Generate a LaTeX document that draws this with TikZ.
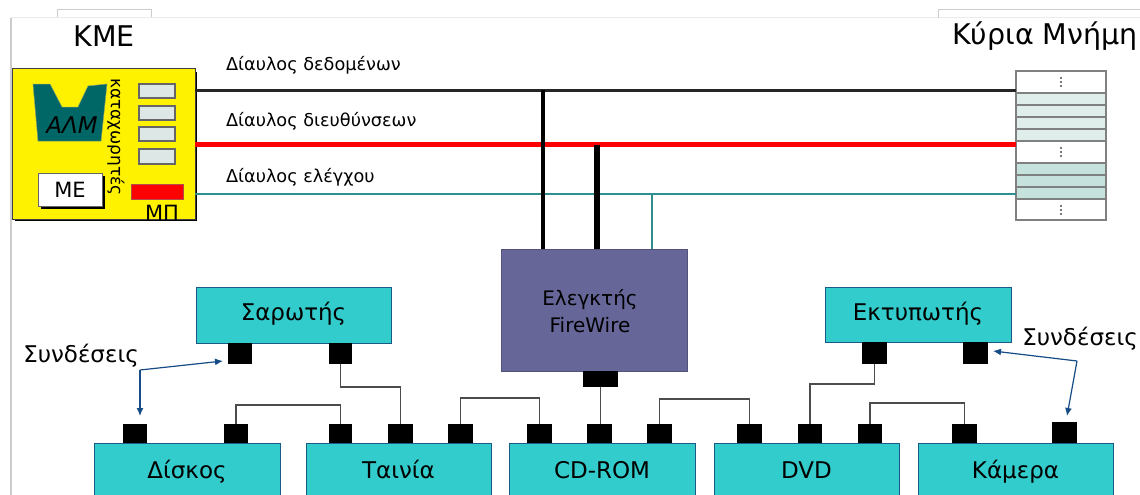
\documentclass[tikz,border=0pt]{standalone}
\usepackage{fontspec}
\setmainfont{DejaVu Sans}
\usetikzlibrary{arrows.meta}
\definecolor{cyanbox}{HTML}{33CCCC}
\definecolor{violetbox}{HTML}{666699}
\definecolor{almteal}{HTML}{006666}
\definecolor{regfill}{HTML}{DDE8E6}
\definecolor{memone}{HTML}{E0EEEB}
\definecolor{memtwo}{HTML}{C5E2DC}
\definecolor{busteal}{HTML}{2F8F8F}
\definecolor{arrowblue}{HTML}{154C85}
\definecolor{framegray}{HTML}{CCCCCC}
\definecolor{devedge}{HTML}{1B5A85}
\newcommand{\fs}[1]{\fontsize{#1}{#1}\selectfont}
\newcommand{\pbox}[7][]{\node[#2,minimum width={#5pt-#3pt},minimum height={#6pt-#4pt},#1] (#7) at ({(#3+#5)/2},{(#4+#6)/2})}
\tikzset{
  x=1pt,y=-1pt,
  base/.style={inner sep=0pt,outer sep=0pt,align=center},
  device/.style={base,draw=devedge,line width=1pt,fill=cyanbox,font=\fs{23},text height=16pt,text depth=5pt},
  port/.style={base,fill=black},
  reg/.style={base,draw=gray!80!black,line width=1.2pt,fill=regfill},
  cell/.style={base,draw=gray,line width=1.2pt,fill=white},
  link/.style={draw=black!70,line width=1.3pt},
  buslabel/.style={base,anchor=west,font=\fs{17.7}},
  title/.style={base,font=\fs{28.5}},
  callout/.style={draw=arrowblue,line width=1.2pt,-{Latex[length=8pt,width=7pt]}},
  conn/.style={base,font=\fs{23}},
}
\begin{document}
\begin{tikzpicture}
\useasboundingbox (0,0) rectangle (1140,495);
\clip (0,0) rectangle (1140,495);
\fill[white] (0,0) rectangle (1140,495);
% window frame
\draw[framegray,line width=1pt] (57,18) -- (57,10) -- (151,10) -- (151,18);
\draw[framegray!40,line width=1pt] (11,18) -- (1140,18);
\draw[framegray,line width=1pt] (938,18) -- (938,10) -- (1140,10);
\draw[framegray,line width=2pt] (11,18) -- (11,495);
% titles
\node[title] (cputitle) at (104,36) {ΚΜΕ};
\node[title] (memtitle) at (1045,36) {Κύρια Μνήμη};
% CPU
\fill[black] (15,72) rectangle (197,221);
\pbox{base,draw=gray!50!black,line width=1pt,fill=yellow}{12}{69}{195}{219}{cpu} {};
\fill[almteal,draw=yellow!40!almteal,line width=.5pt] (33,84) -- (50,84) -- (62,107) -- (78,107) -- (88,86) -- (107,84) -- (101,141) -- (38,141) -- cycle;
\node[base,font=\fs{23}\itshape] (alm) at (72,125) {ΑΛΜ};
\node[base,rotate=-90,font=\fs{17}] (regs) at (116,137) {καταχωρητές};
\pbox{reg}{139}{84}{175}{98}{r1} {};
\pbox{reg}{139}{106}{175}{120}{r2} {};
\pbox{reg}{139}{127}{175}{141}{r3} {};
\pbox{reg}{139}{149}{175}{164}{r4} {};
\fill[black] (41,176) rectangle (105,209);
\pbox{base,draw=black!60,line width=1pt,fill=white,font=\fs{21}}{38}{173}{102}{206}{me} {ΜΕ};
\pbox{base,draw=gray!60!red,line width=.8pt,fill=red}{131}{184}{183}{199}{pc} {};
\node[base,font=\fs{21}] (pclabel) at (162,213) {ΜΠ};
% memory
\pbox{cell}{1016}{71}{1106}{220}{mem} {};
\pbox{base,fill=memone}{1017}{93}{1105}{141}{memA} {};
\pbox{base,fill=memtwo}{1017}{163}{1105}{199}{memB} {};
\foreach \yy in {93,105,117,129,141} \draw[gray,line width=1.2pt] (1016,\yy) -- (1106,\yy);
\foreach \yy in {163,175,187,199} \draw[gray,line width=1.2pt] (1016,\yy) -- (1106,\yy);
\foreach \yy in {82,152,210} \foreach \dd in {-4,0,4} \fill[black!70] (1061,\yy+\dd) circle (1.2pt);
% buses
\coordinate (busA) at (0,90);
\coordinate (busB) at (0,144.5);
\coordinate (busC) at (0,194);
\draw[black!85,line width=3pt] (cpu.east |- busA) -- (mem.west |- busA);
\draw[busteal,line width=2pt] (cpu.east |- busC) -- (mem.west |- busC);
\draw[red,line width=5pt] (cpu.east |- busB) -- (mem.west |- busB);
\node[buslabel] (lA) at (226,65) {Δίαυλος δεδομένων};
\node[buslabel] (lB) at (226,121) {Δίαυλος διευθύνσεων};
\node[buslabel] (lC) at (226,177) {Δίαυλος ελέγχου};
% controller
\pbox{base,draw=violetbox!80!black,line width=1pt,fill=violetbox}{501}{249}{687}{371}{ctrl} {};
\node[base,font=\fs{20}] (ctrltext) at (590,311) {Ελεγκτής\\[7pt]FireWire};
\coordinate (tapA) at (543,0);
\coordinate (tapB) at (597,0);
\coordinate (tapC) at (652,0);
\draw[black,line width=3.5pt] (tapA |- busA) -- (tapA |- ctrl.north);
\draw[black,line width=6.5pt] (tapB |- busB) -- (tapB |- ctrl.north);
\draw[busteal,line width=2pt] (tapC |- busC) -- (tapC |- ctrl.north);
% devices
\pbox{device}{196}{287}{391}{343}{scanner} {Σαρωτής};
\pbox{device}{825}{287}{1011}{342}{printer} {Εκτυπωτής};
\pbox{device}{94}{443}{280}{503}{disk} {Δίσκος};
\pbox{device}{306}{443}{491}{503}{tape} {Ταινία};
\pbox{device}{509}{443}{695}{503}{cdrom} {CD-ROM};
\pbox{device}{714}{443}{899}{503}{dvd} {DVD};
\pbox{device}{918}{443}{1113}{503}{camera} {Κάμερα};
% ports
\pbox{port}{228}{343}{252}{364}{pS1} {};
\pbox{port}{329}{343}{352}{364}{pS2} {};
\pbox{port}{862}{342}{887}{364}{pP1} {};
\pbox{port}{963}{342}{988}{364}{pP2} {};
\pbox{port}{583}{371}{618}{387}{pC} {};
\pbox{port}{123}{424}{147}{443}{d1} {};
\pbox{port}{224}{424}{248}{443}{d2} {};
\pbox{port}{329}{424}{352}{443}{t1} {};
\pbox{port}{388}{424}{413}{443}{t2} {};
\pbox{port}{448}{424}{473}{443}{t3} {};
\pbox{port}{527}{424}{552}{443}{c1} {};
\pbox{port}{587}{424}{612}{443}{c2} {};
\pbox{port}{647}{424}{672}{443}{c3} {};
\pbox{port}{737}{424}{762}{443}{v1} {};
\pbox{port}{798}{424}{822}{443}{v2} {};
\pbox{port}{858}{424}{882}{443}{v3} {};
\pbox{port}{952}{424}{977}{443}{k1} {};
\pbox{port}{1052}{422}{1077}{443}{k2} {};
% links
\draw[link] (d2.north) -- ++(0,-19) -| (t1.north);
\draw[link] (pS2.south) -- ++(0,23) -| (t2.north);
\draw[link] (t3.north) -- ++(0,-26) -| (c1.north);
\draw[link] (pC.south) -- (pC.south |- c2.north);
\draw[link] (c3.north) -- ++(0,-25) -| (v1.north);
\draw[link] (pP1.south) -- ++(0,20) -| (v2.north);
\draw[link] (v3.north) -- ++(0,-21) -| (k1.north);
% callouts
\node[conn] (connL) at (81,356) {Συνδέσεις};
\node[conn] (connR) at (1080,339) {Συνδέσεις};
\coordinate (cornerL) at (140,370);
\coordinate (tipL1) at (223,361);
\coordinate (tipL2) at (140,416);
\coordinate (cornerR) at (1077,361);
\coordinate (tipR1) at (993,351);
\coordinate (tipR2) at (1067,416);
\draw[callout] (cornerL) -- (tipL1);
\draw[callout] (cornerL) -- (tipL2);
\draw[callout] (cornerR) -- (tipR1);
\draw[callout] (cornerR) -- (tipR2);
\end{tikzpicture}
\end{document}
